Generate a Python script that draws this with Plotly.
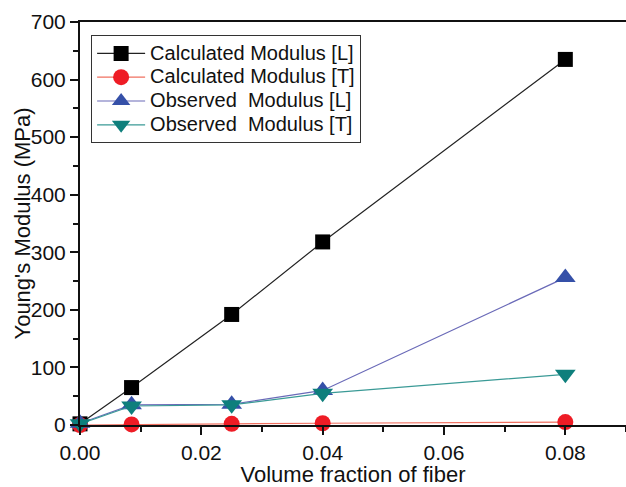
import plotly.graph_objects as go

x = [0.0, 0.0085, 0.025, 0.04, 0.08]
calc_L = [2, 65, 192, 318, 635]
calc_T = [0, 1, 2, 3, 5]
obs_L = [3, 35, 36, 60, 256]
obs_T = [2, 33, 35, 55, 88]

names = ["Calculated Modulus [L]", "Calculated Modulus [T]",
         "Observed  Modulus [L]", "Observed  Modulus [T]"]
series = [calc_L, calc_T, obs_L, obs_T]
line_colors = ["#222222", "#f07060", "#6a6ab8", "#3a9a96"]
marker_colors = ["#000000", "#ee1c25", "#3550a8", "#0e7f7c"]
symbols = ["square", "circle", "triangle-up", "triangle-down"]
sizes = [15, 16, 18, 18]

fig = go.Figure()
for n, s, lc, mc, sym, sz in zip(names, series, line_colors, marker_colors, symbols, sizes):
    fig.add_trace(go.Scatter(
        x=x, y=s, name='<span style="font-size:20px">' + n + '</span>',
        mode="lines+markers",
        line=dict(color=lc, width=1.2),
        marker=dict(symbol=sym, size=sz, color=mc, line=dict(width=0)),
        cliponaxis=False,
    ))

font = "Liberation Sans, Arial, sans-serif"
fig.update_layout(
    width=626, height=487,
    margin=dict(l=80, r=0, t=22, b=62),
    paper_bgcolor="white", plot_bgcolor="white",
    font=dict(family=font, size=21, color="#111111"),
    showlegend=True,
    legend=dict(
        x=0.02, y=0.967, xanchor="left", yanchor="top",
        bordercolor="#333333", borderwidth=1.2, bgcolor="white",
        font=dict(size=16, family=font, color="#111111"), tracegroupgap=0,
        itemwidth=48,
    ),
    xaxis=dict(
        range=[0, 0.09], tickvals=[0, 0.02, 0.04, 0.06, 0.08],
        ticktext=["0.00", "0.02", "0.04", "0.06", "0.08"],
        tickfont=dict(size=21, color="#111111"),
        showline=True, linecolor="#111111", linewidth=2, mirror=True,
        ticks="outside", ticklen=8, tickwidth=2, tickcolor="#111111",
        minor=dict(ticks="outside", dtick=0.01, ticklen=5, tickwidth=2, tickcolor="#111111"),
        showgrid=False, zeroline=False,
        title=dict(text="Volume fraction of fiber", font=dict(size=22, color="#111111"), standoff=5),
    ),
    yaxis=dict(
        range=[0, 700], dtick=100,
        tickfont=dict(size=21, color="#111111"),
        showline=True, linecolor="#111111", linewidth=2,
        ticks="outside", ticklen=8, tickwidth=2, tickcolor="#111111",
        minor=dict(ticks="outside", dtick=50, ticklen=5, tickwidth=2, tickcolor="#111111"),
        showgrid=False, zeroline=False,
    ),
    annotations=[dict(
        text="Young's Modulus (MPa)", textangle=-90,
        xref="paper", yref="paper", x=0, y=0.5,
        xanchor="center", yanchor="middle", xshift=-58, showarrow=False,
        font=dict(size=22, color="#111111", family=font),
    )],
)

fig.write_html("out.html")
